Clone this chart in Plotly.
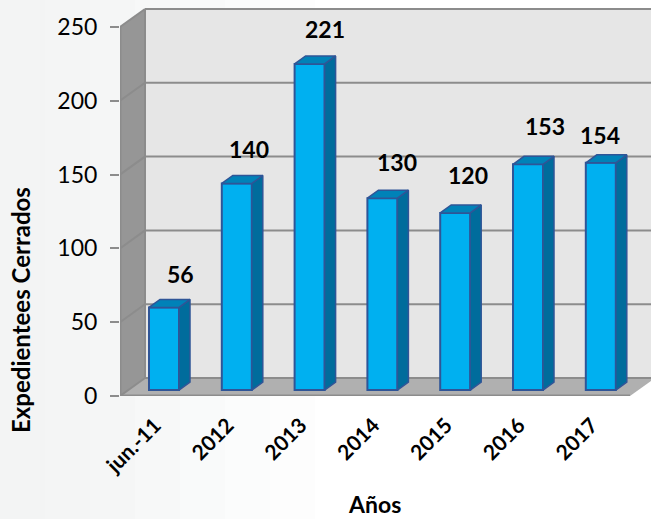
# Expedientes cerrados por año - 3D look columns
import plotly.graph_objects as go

# Data
categories = ['jun.-11', '2012', '2013', '2014', '2015', '2016', '2017']
values = [56, 140, 221, 130, 120, 153, 154]
tick_values = [0, 50, 100, 150, 200, 250]

# Label nudges, in pixels, from the top of each column
label_dx = [16, 12, 15, 15, 13, 17, -1]
label_dy = [33, 34, 35, 36, 38, 38, 28]

# Fake perspective, in axis units
PX_X = 72.8   # pixels per category
PX_Y = 1.476  # pixels per value unit
wall_dx, wall_dy = 25 / PX_X, 18 / PX_Y
bar_dx, bar_dy = 11 / PX_X, 8 / PX_Y
bar_w = 30 / PX_X
bar_base = 4
x_min, x_max = -44 / PX_X, 487 / PX_X
x_floor = 466 / PX_X

FONT = 'Lato, "Open Sans", sans-serif'
GRID = '#8c8c8c'

shapes = []

# soft grey fading to white on the left of the page
band_colors = ['#f3f4f4', '#f4f5f5', '#f5f6f6', '#f7f8f8', '#f9fafa', '#fbfcfc', '#fdfdfd']
for n, c in enumerate(band_colors):
    shapes.append(dict(type='rect', xref='paper', yref='paper', layer='below',
                       x0=-120 / 531 + n * 45 / 531, x1=-120 / 531 + (n + 1) * 45 / 531,
                       y0=-123 / 391, y1=1 + 5 / 391, line_width=0, fillcolor=c))


def poly(points):
    return 'M ' + ' L '.join(f'{x},{y}' for x, y in points) + ' Z'


top = tick_values[-1]
# back wall, side wall, floor
shapes.append(dict(type='path', xref='x', yref='y', layer='below', line_width=0, fillcolor='#e6e6e6',
                   path=poly([(x_min + wall_dx, wall_dy), (x_max, wall_dy),
                              (x_max, top + wall_dy), (x_min + wall_dx, top + wall_dy)])))
shapes.append(dict(type='path', xref='x', yref='y', layer='below', line_width=0, fillcolor='#969696',
                   path=poly([(x_min, 0), (x_min + wall_dx, wall_dy),
                              (x_min + wall_dx, top + wall_dy), (x_min, top)])))
shapes.append(dict(type='path', xref='x', yref='y', layer='below', line_width=0, fillcolor='#b0b0b0',
                   path=poly([(x_min, 0), (x_floor, 0), (x_floor + wall_dx, wall_dy),
                              (x_min + wall_dx, wall_dy)])))

# gridlines run across the side wall, then the back wall
for v in tick_values:
    shapes.append(dict(type='line', xref='x', yref='y', layer='below', line=dict(color=GRID, width=2),
                       x0=x_min, y0=v, x1=x_min + wall_dx, y1=v + wall_dy))
    shapes.append(dict(type='line', xref='x', yref='y', layer='below', line=dict(color=GRID, width=2),
                       x0=x_min + wall_dx, y0=v + wall_dy, x1=x_max, y1=v + wall_dy))

# front edges of the box
shapes.append(dict(type='line', xref='x', yref='y', layer='below', line=dict(color=GRID, width=3),
                   x0=x_min, y0=0, x1=x_min, y1=top))
shapes.append(dict(type='line', xref='x', yref='y', layer='below', line=dict(color=GRID, width=3),
                   x0=x_min, y0=0, x1=x_floor, y1=0))
shapes.append(dict(type='line', xref='x', yref='y', layer='below', line=dict(color=GRID, width=2),
                   x0=x_min + wall_dx, y0=wall_dy, x1=x_min + wall_dx, y1=top + wall_dy))

fig = go.Figure()

xs = list(range(len(categories)))
fig.add_trace(go.Bar(x=xs, y=values, base=bar_base, width=bar_w,
                     marker=dict(color='#00b0f0', line=dict(color='#2f5597', width=2)),
                     hoverinfo='skip', showlegend=False))

# side and top faces of the columns
side_x, side_y, cap_x, cap_y = [], [], [], []
for i, v in zip(xs, values):
    x1 = i + bar_w / 2
    x0 = i - bar_w / 2
    y1 = v + bar_base
    side_x += [x1, x1 + bar_dx, x1 + bar_dx, x1, x1, None]
    side_y += [bar_base, bar_base + bar_dy, y1 + bar_dy, y1, bar_base, None]
    cap_x += [x0, x1, x1 + bar_dx, x0 + bar_dx, x0, None]
    cap_y += [y1, y1, y1 + bar_dy, y1 + bar_dy, y1, None]

fig.add_trace(go.Scatter(x=side_x, y=side_y, mode='lines', fill='toself', fillcolor='#006c9c',
                         line=dict(color='#2f5597', width=1.5), hoverinfo='skip', showlegend=False))
fig.add_trace(go.Scatter(x=cap_x, y=cap_y, mode='lines', fill='toself', fillcolor='#0082b8',
                         line=dict(color='#2f5597', width=1.5), hoverinfo='skip', showlegend=False))

annotations = []
for i, v, dx, dy in zip(xs, values, label_dx, label_dy):
    annotations.append(dict(x=i, y=v + bar_base, text=f'<b>{v}</b>', showarrow=False,
                            xanchor='center', yanchor='middle', xshift=dx, yshift=dy,
                            font=dict(family=FONT, size=23, color='black')))

annotations.append(dict(xref='paper', yref='paper', x=(374 - 120) / 531, y=-(504 - 396) / 391,
                        text='<b>Años</b>', showarrow=False, xanchor='center', yanchor='middle',
                        borderpad=0, font=dict(family=FONT, size=23, color='black')))
annotations.append(dict(xref='paper', yref='paper', x=-(120 - 20) / 531, y=(396 - 310) / 391,
                        text='<b>Expedientees Cerrados</b>', textangle=-90, showarrow=False,
                        xanchor='center', yanchor='middle',
                        font=dict(family=FONT, size=24, color='black')))

fig.update_layout(width=651, height=519, margin=dict(l=120, r=0, t=5, b=123),
                  paper_bgcolor='white', plot_bgcolor='rgba(0,0,0,0)',
                  shapes=shapes, annotations=annotations,
                  xaxis=dict(range=[x_min, x_max], tickmode='array', tickvals=xs, ticktext=categories,
                             tickangle=-45, showgrid=False, zeroline=False, ticks='',
                             ticklabelstandoff=12, ticklabelshift=-9,
                             tickfont=dict(family=FONT, size=21, color='black', weight='bold')),
                  yaxis=dict(range=[0, 391 / PX_Y], tickmode='array', tickvals=tick_values,
                             showgrid=False, zeroline=False, ticks='outside', ticklen=9, tickwidth=2,
                             ticklabelstandoff=8, tickcolor=GRID,
                             tickfont=dict(family=FONT, size=23, color='black')))

fig.write_html("out.html", config={'displayModeBar': False},
               post_script="document.body.style.margin='0';")
